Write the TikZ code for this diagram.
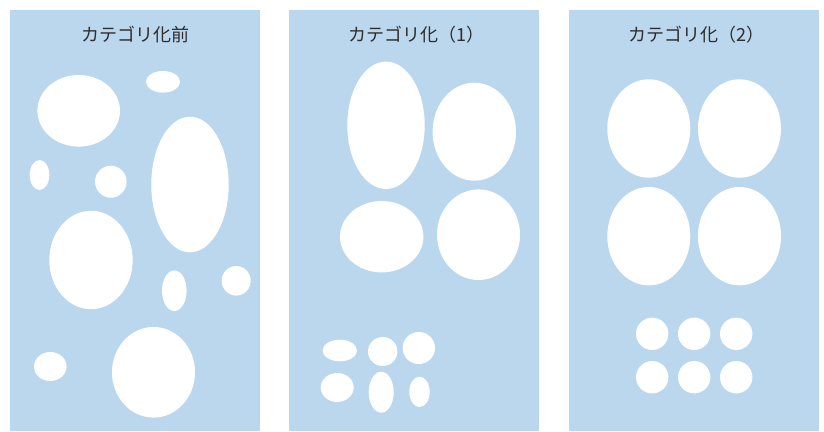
\documentclass[tikz,border=0pt]{standalone}
\usepackage{fontspec}
\newfontfamily\jpfont{Noto Sans CJK JP}
\definecolor{panelblue}{RGB}{186,215,238}
\definecolor{titlegray}{RGB}{45,45,45}
\begin{document}
\begin{tikzpicture}[x=1pt,y=-1pt,
  panel/.style={fill=panelblue,draw=none},
  blob/.style={fill=white,draw=none},
  paneltitle/.style={font=\jpfont\fontsize{18}{20}\selectfont,text=titlegray,inner sep=0pt,anchor=center}]
\useasboundingbox (0,0) rectangle (824,431);
% panels
\fill[panel] (10,10) rectangle (260,431);
\fill[panel] (289,10) rectangle (539,431);
\fill[panel] (569,10) rectangle (819,431);
% titles
\node[paneltitle] (t1) at (135,35) {カテゴリ化前};
\node[paneltitle] (t2) at (416,35) {カテゴリ化（1）};
\node[paneltitle] (t3) at (696,35) {カテゴリ化（2）};
% panel 1
\fill[blob] (78.7,110.8) ellipse [x radius=41.3pt, y radius=35.8pt];
\fill[blob] (163,81.8) ellipse [x radius=17pt, y radius=10.8pt];
\fill[blob] (190,184.5) ellipse [x radius=38.7pt, y radius=67.8pt];
\fill[blob] (39.5,175) ellipse [x radius=9.8pt, y radius=15pt];
\fill[blob] (110.8,181.7) ellipse [x radius=15.8pt, y radius=16pt];
\fill[blob] (91,260) ellipse [x radius=41.7pt, y radius=49.2pt];
\fill[blob] (174.3,290.7) ellipse [x radius=12.3pt, y radius=20.3pt];
\fill[blob] (236.2,280.8) ellipse [x radius=14.5pt, y radius=14.8pt];
\fill[blob] (50.3,366.5) ellipse [x radius=16.3pt, y radius=14.5pt];
\fill[blob] (153.5,372.3) ellipse [x radius=41.5pt, y radius=45.3pt];
% panel 2
\fill[blob] (386,125.3) ellipse [x radius=38.7pt, y radius=63.7pt];
\fill[blob] (474.3,131.7) ellipse [x radius=41.7pt, y radius=49pt];
\fill[blob] (381.7,236.7) ellipse [x radius=41.7pt, y radius=35.7pt];
\fill[blob] (478.5,234.7) ellipse [x radius=41.5pt, y radius=45.3pt];
\fill[blob] (339.8,350.5) ellipse [x radius=17.2pt, y radius=10.8pt];
\fill[blob] (382.7,351.5) ellipse [x radius=14.7pt, y radius=14.5pt];
\fill[blob] (418.8,348) ellipse [x radius=16.2pt, y radius=16pt];
\fill[blob] (337.2,387.5) ellipse [x radius=16.5pt, y radius=14.5pt];
\fill[blob] (381.2,392.2) ellipse [x radius=12.5pt, y radius=20.5pt];
\fill[blob] (419.5,391.8) ellipse [x radius=10.2pt, y radius=15.2pt];
% panel 3
\foreach \cx in {648.8,739.5}{
  \foreach \cy in {128.5,236.2}{
    \fill[blob] (\cx,\cy) ellipse [x radius=41.5pt, y radius=49.2pt];
  }
}
\foreach \cx in {652.2,694.2,736.2}{
  \foreach \cy in {333.8,377.2}{
    \fill[blob] (\cx,\cy) circle [radius=16.2pt];
  }
}
\end{tikzpicture}
\end{document}
